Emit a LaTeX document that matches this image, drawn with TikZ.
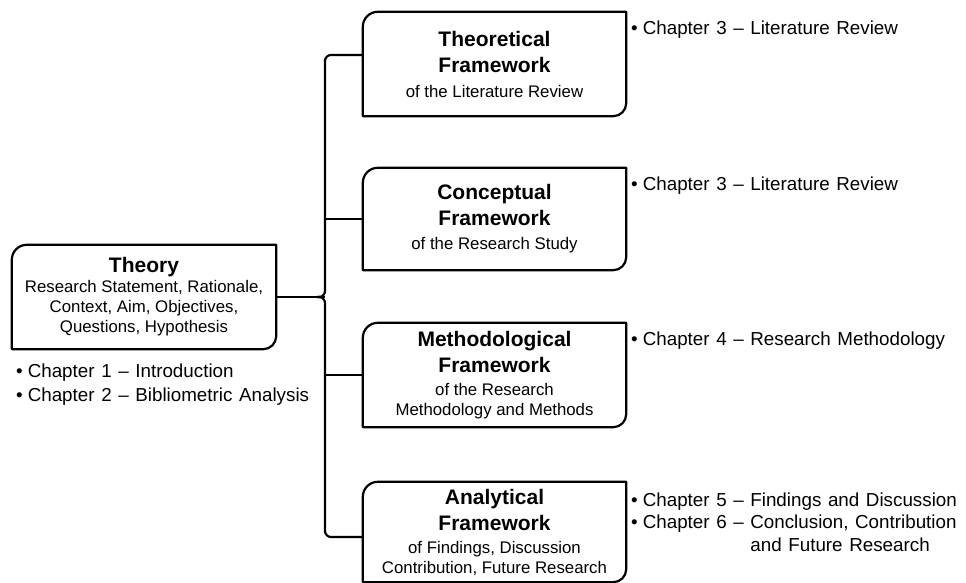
\documentclass[tikz,border=0pt]{standalone}
\usepackage{fontspec}
\setmainfont{Liberation Sans}
\newcommand\hdfont{\fontsize{21}{26}\selectfont\bfseries}
\newcommand\bdfont{\fontsize{16.8}{20}\selectfont\mdseries}
\newcommand\blfont{\fontsize{18.8}{23}\selectfont\spaceskip=6.6pt plus 1pt\relax}
\newcommand\bul{\textbullet\kern5pt}
\begin{document}
\begin{tikzpicture}[x=1pt,y=1pt,
  frame/.style={rectangle, inner sep=0pt, align=center, font=\bdfont},
  conn/.style={line width=2.2pt, rounded corners=6pt},
  note/.style={anchor=base west, inner sep=0pt, align=left, font=\blfont}]
\useasboundingbox (0,0) rectangle (966,583);

% boxes (text only; outlines drawn below)
\node[frame, minimum width=264pt, minimum height=104pt] (theory) at (144,286)
  {\hdfont Theory\\Research Statement, Rationale,\\Context, Aim, Objectives,\\Questions, Hypothesis};
\node[frame, minimum width=263pt, minimum height=104pt] (tf) at (494.5,519)
  {\hdfont Theoretical\\[6pt]\hdfont Framework\\[5pt]of the Literature Review};
\node[frame, minimum width=263pt, minimum height=102pt] (cf) at (494.5,364)
  {\hdfont Conceptual\\[6pt]\hdfont Framework\\[4pt]of the Research Study};
\node[frame, minimum width=263pt, minimum height=104pt] (mf) at (494.5,208)
  {\hdfont Methodological\\[6pt]\hdfont Framework\\[3pt]of the Research\\Methodology and Methods};
\node[frame, minimum width=263pt, minimum height=100pt] (af) at (494.5,51)
  {\hdfont Analytical\\[6pt]\hdfont Framework\\[3pt]of Findings, Discussion\\Contribution, Future Research};

% outlines: rounded top-left and bottom-right corners
\foreach \b in {theory,tf,cf,mf,af}{
  \draw[line width=2.2pt, line join=round]
    (\b.south west) -- ([yshift=-15pt]\b.north west)
    arc[start angle=180, end angle=90, radius=15pt]
    -- (\b.north east) -- ([yshift=13pt]\b.south east)
    arc[start angle=0, end angle=-90, radius=13pt] -- cycle;
}

% brace joining the theory to the four frameworks
\coordinate (spine) at (325,0);
\coordinate (jt) at ([yshift=9pt]tf.west);
\coordinate (ja) at ([yshift=-5pt]af.west);
\draw[line width=2.2pt] (theory.east) -- (spine |- theory.east);
\draw[conn] (jt) -- (spine |- jt) -- (spine |- theory.east) -- ([xshift=-8pt]spine |- theory.east);
\draw[conn] (ja) -- (spine |- ja) -- (spine |- theory.east) -- ([xshift=-8pt]spine |- theory.east);
\draw[line width=2.2pt] (spine |- cf.west) -- (cf.west);
\draw[line width=2.2pt] (spine |- mf.west) -- (mf.west);

% chapter notes
\node[note, align=left] (n1) at (16,181) {\bul Chapter 1 -- Introduction\\[1pt]\bul Chapter 2 -- Bibliometric Analysis};
\node[note] (n3a) at (631,548) {\bul Chapter 3 -- Literature Review};
\node[note] (n3b) at (631,392) {\bul Chapter 3 -- Literature Review};
\node[note] (n4) at (631,237) {\bul Chapter 4 -- Research Methodology};
\node[note, anchor=north west] (n56) at (631,93) {%
  \begin{tabular}{@{}l@{ }l@{}}
  \bul Chapter 5 -- & Findings and Discussion\\[-0.5pt]
  \bul Chapter 6 -- & Conclusion, Contribution\\[-0.5pt]
   & and Future Research
  \end{tabular}};
\end{tikzpicture}
\end{document}
